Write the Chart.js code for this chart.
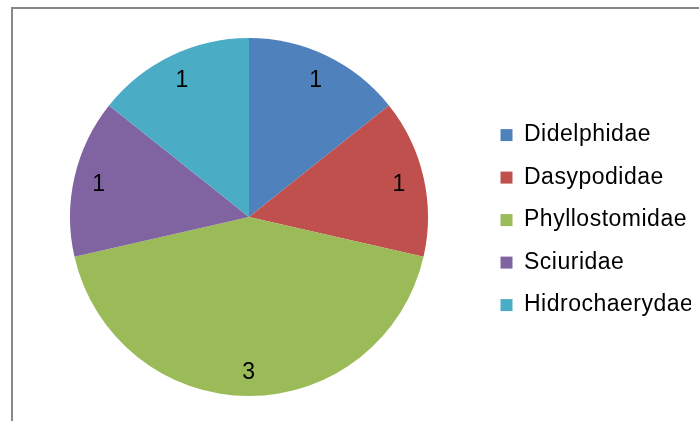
<!DOCTYPE html>
<html>
<head>
<meta charset="utf-8">
<script src="https://cdn.jsdelivr.net/npm/chart.js@4.4.1/dist/chart.umd.min.js"></script>
<style>
  html, body { margin: 0; padding: 0; background: #fff; }
  #wrap { position: relative; width: 699px; height: 421px; overflow: hidden; }
  #frame {
    position: absolute; left: 11px; top: 7px; width: 720px; height: 440px;
    border-left: 2px solid #888; border-top: 2px solid #888;
  }
  #chart { position: absolute; left: 0; top: 0; }
</style>
</head>
<body>
<div id="wrap">
  <div id="frame"></div>
  <canvas id="chart" width="699" height="421"></canvas>
</div>
<script>
// Families and counts
const families = ['Didelphidae', 'Dasypodidae', 'Phyllostomidae', 'Sciuridae', 'Hidrochaerydae'];
const counts = [1, 1, 3, 1, 1];
const sliceColors = ['#4F81BD', '#C0504D', '#9BBB59', '#8064A2', '#4BACC6'];

Chart.defaults.font.family = "'Liberation Sans', Arial, sans-serif";
Chart.defaults.color = '#000';

// slightly wider text spacing, set again whenever the canvas state is reset
const spacing = {
  id: 'spacing',
  beforeLayout(chart) { chart.ctx.letterSpacing = '0.5px'; },
  beforeDraw(chart) { chart.ctx.letterSpacing = '0.5px'; }
};

// value written inside each slice, digits centred on the anchor point
const sliceLabels = {
  id: 'sliceLabels',
  afterDatasetsDraw(chart) {
    const ctx = chart.ctx;
    const meta = chart.getDatasetMeta(0);
    const size = 23;
    ctx.save();
    ctx.font = size + "px 'Liberation Sans', Arial, sans-serif";
    ctx.fillStyle = '#000';
    ctx.textAlign = 'center';
    ctx.textBaseline = 'alphabetic';
    meta.data.forEach((arc, i) => {
      const p = arc.getProps(['x', 'y', 'startAngle', 'endAngle', 'outerRadius'], true);
      const mid = (p.startAngle + p.endAngle) / 2;
      const r = p.outerRadius * 0.86;
      ctx.fillText(String(counts[i]), p.x + Math.cos(mid) * r, p.y + Math.sin(mid) * r + size * 0.36);
    });
    ctx.restore();
  }
};

const ctx = document.getElementById('chart').getContext('2d');
new Chart(ctx, {
  type: 'pie',
  data: {
    labels: families,
    datasets: [{
      data: counts,
      backgroundColor: sliceColors,
      borderWidth: 0
    }]
  },
  options: {
    responsive: false,
    animation: false,
    layout: { padding: { left: 17, top: 38, bottom: 25, right: 8 } },
    plugins: {
      legend: {
        position: 'right',
        maxWidth: 210,
        // empty title only nudges the item column down a little
        title: { display: true, text: '', font: { size: 1 }, padding: { top: 5, bottom: 0 } },
        labels: {
          font: { size: 23 },
          color: '#000',
          boxWidth: 12,
          boxHeight: 12,
          padding: 19.5
        }
      },
      tooltip: { enabled: false }
    }
  },
  plugins: [spacing, sliceLabels]
});
</script>
</body>
</html>
